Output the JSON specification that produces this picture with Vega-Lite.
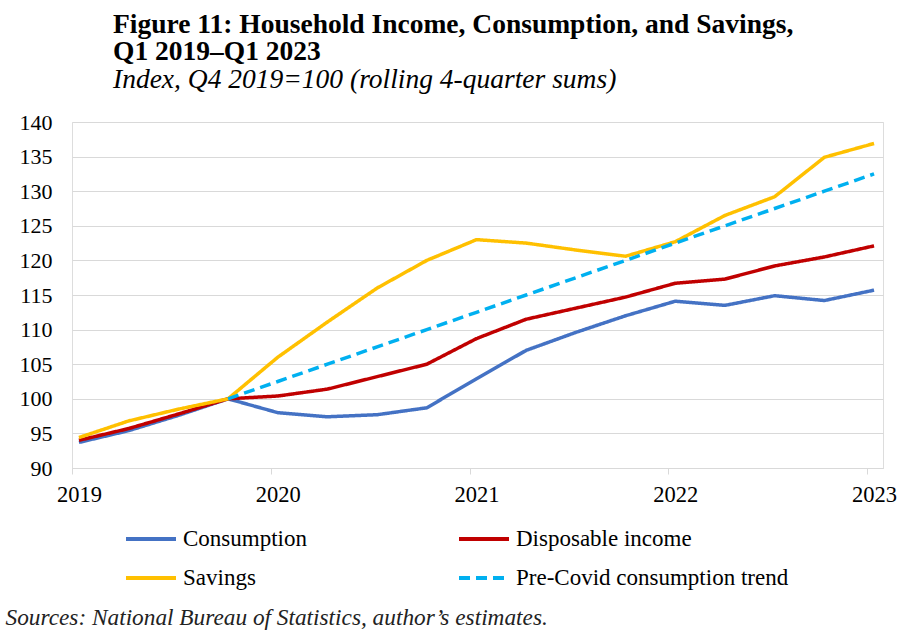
{
  "$schema": "https://vega.github.io/schema/vega-lite/v6.json",
  "autosize": "none",
  "width": 811,
  "height": 346,
  "padding": {"left": 72, "top": 122, "right": 34, "bottom": 165},
  "background": "white",
  "title": {
    "text": ["Figure 11: Household Income, Consumption, and Savings,", "Q1 2019–Q1 2023"],
    "subtitle": "Index, Q4 2019=100 (rolling 4-quarter sums)",
    "anchor": "start",
    "frame": "group",
    "dx": 41,
    "offset": 18,
    "font": "Liberation Serif",
    "fontSize": 27.5,
    "fontWeight": "bold",
    "lineHeight": 27,
    "color": "black",
    "subtitleFont": "Liberation Serif",
    "subtitleFontSize": 27.5,
    "subtitleFontStyle": "italic",
    "subtitleColor": "black",
    "subtitlePadding": 0
  },
  "data": {
    "values": [
      {"x": 2019.035, "Consumption": 93.7, "Disposable income": 94.0, "Savings": 94.4, "Pre-Covid consumption trend": null},
      {"x": 2019.285, "Consumption": 95.4, "Disposable income": 95.7, "Savings": 96.8, "Pre-Covid consumption trend": null},
      {"x": 2019.535, "Consumption": 97.6, "Disposable income": 97.8, "Savings": 98.5, "Pre-Covid consumption trend": null},
      {"x": 2019.785, "Consumption": 100.0, "Disposable income": 100.0, "Savings": 100.0, "Pre-Covid consumption trend": 100.0},
      {"x": 2020.035, "Consumption": 98.0, "Disposable income": 100.4, "Savings": 106.0, "Pre-Covid consumption trend": 102.5},
      {"x": 2020.285, "Consumption": 97.4, "Disposable income": 101.4, "Savings": 111.1, "Pre-Covid consumption trend": 105.0},
      {"x": 2020.535, "Consumption": 97.7, "Disposable income": 103.2, "Savings": 116.0, "Pre-Covid consumption trend": 107.5},
      {"x": 2020.785, "Consumption": 98.7, "Disposable income": 105.0, "Savings": 120.0, "Pre-Covid consumption trend": 110.0},
      {"x": 2021.035, "Consumption": 102.9, "Disposable income": 108.7, "Savings": 123.0, "Pre-Covid consumption trend": 112.5},
      {"x": 2021.285, "Consumption": 107.0, "Disposable income": 111.5, "Savings": 122.5, "Pre-Covid consumption trend": 115.0},
      {"x": 2021.535, "Consumption": 109.6, "Disposable income": 113.1, "Savings": 121.5, "Pre-Covid consumption trend": 117.5},
      {"x": 2021.785, "Consumption": 112.0, "Disposable income": 114.7, "Savings": 120.6, "Pre-Covid consumption trend": 120.0},
      {"x": 2022.035, "Consumption": 114.1, "Disposable income": 116.7, "Savings": 122.7, "Pre-Covid consumption trend": 122.5},
      {"x": 2022.285, "Consumption": 113.5, "Disposable income": 117.3, "Savings": 126.5, "Pre-Covid consumption trend": 125.0},
      {"x": 2022.535, "Consumption": 114.9, "Disposable income": 119.2, "Savings": 129.2, "Pre-Covid consumption trend": 127.5},
      {"x": 2022.785, "Consumption": 114.2, "Disposable income": 120.5, "Savings": 134.9, "Pre-Covid consumption trend": 130.0},
      {"x": 2023.035, "Consumption": 115.7, "Disposable income": 122.1, "Savings": 136.9, "Pre-Covid consumption trend": 132.5}
    ]
  },
  "transform": [
    {"fold": ["Consumption", "Disposable income", "Savings", "Pre-Covid consumption trend"], "as": ["series", "value"]}
  ],
  "mark": {"type": "line", "strokeWidth": 3.5, "strokeCap": "butt", "strokeJoin": "round"},
  "encoding": {
    "x": {
      "field": "x",
      "type": "quantitative",
      "scale": {"domain": [2019, 2023.08], "nice": false, "zero": false},
      "axis": {
        "values": [2019, 2020, 2021, 2022, 2023],
        "format": "d",
        "grid": false,
        "domainColor": "#D9D9D9",
        "tickColor": "#D9D9D9",
        "tickSize": 6,
        "labelFlush": false,
        "labelOffset": 7,
        "labelPadding": 9,
        "labelFont": "Liberation Serif",
        "labelFontSize": 22.5,
        "labelColor": "black",
        "title": "Sources: National Bureau of Statistics, author’s estimates.",
        "titleFont": "Liberation Serif",
        "titleFontSize": 23.3,
        "titleFontStyle": "italic",
        "titleFontWeight": "normal",
        "titleColor": "#222222",
        "titleAnchor": "start",
        "titleAlign": "left",
        "titleBaseline": "alphabetic",
        "titleX": -67,
        "titleY": 156
      }
    },
    "y": {
      "field": "value",
      "type": "quantitative",
      "scale": {"domain": [90, 140], "nice": false, "zero": false},
      "axis": {
        "values": [90, 95, 100, 105, 110, 115, 120, 125, 130, 135, 140],
        "domain": false,
        "ticks": false,
        "gridColor": "#D9D9D9",
        "gridWidth": 1,
        "labelPadding": 20,
        "labelFont": "Liberation Serif",
        "labelFontSize": 22,
        "labelColor": "black",
        "title": null
      }
    },
    "color": {
      "field": "series",
      "type": "nominal",
      "scale": {
        "domain": ["Consumption", "Disposable income", "Savings", "Pre-Covid consumption trend"],
        "range": ["#4472C4", "#C00000", "#FFC000", "#00B0F0"]
      },
      "legend": {
        "title": null,
        "orient": "none",
        "direction": "horizontal",
        "legendX": 52,
        "legendY": 390,
        "columns": 2,
        "columnPadding": 144,
        "rowPadding": -17,
        "symbolType": "stroke",
        "symbolSize": 2500,
        "symbolStrokeWidth": 4,
        "labelFont": "Liberation Serif",
        "labelFontSize": 23,
        "labelColor": "black",
        "labelOffset": 5,
        "labelLimit": 400
      }
    },
    "strokeDash": {
      "field": "series",
      "type": "nominal",
      "scale": {
        "domain": ["Consumption", "Disposable income", "Savings", "Pre-Covid consumption trend"],
        "range": [[1, 0], [1, 0], [1, 0], [11, 6]]
      },
      "legend": null
    }
  }
}
